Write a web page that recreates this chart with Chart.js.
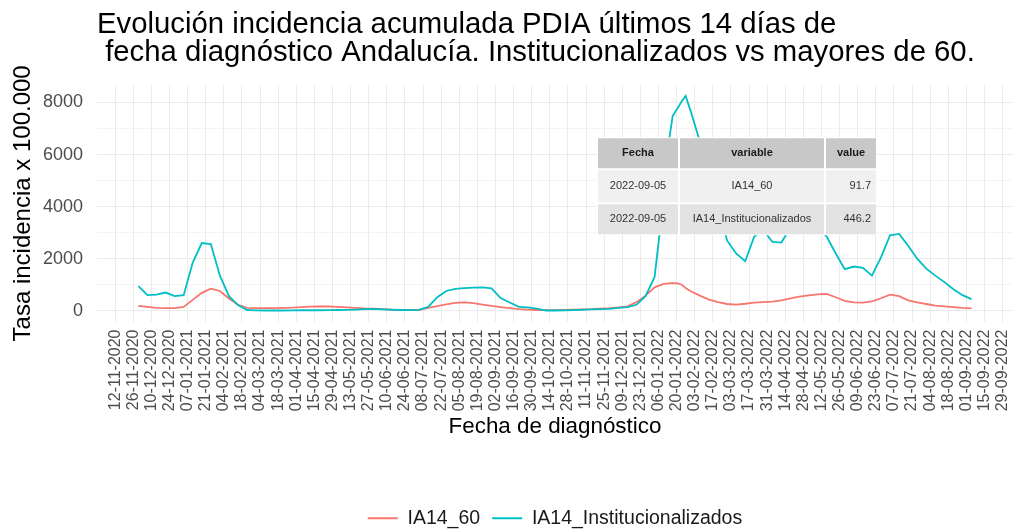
<!DOCTYPE html>
<html>
<head>
<meta charset="utf-8">
<script src="https://cdn.jsdelivr.net/npm/chart.js@4.4.1/dist/chart.umd.min.js"></script>
<style>
  html, body { margin: 0; padding: 0; background: #fff; }
  canvas { display: block; }
</style>
</head>
<body>
<canvas id="chart" width="1030" height="532"></canvas>
<script>
const titleLines = [
  "Evolución incidencia acumulada PDIA últimos 14 días de",
  " fecha diagnóstico Andalucía. Institucionalizados vs mayores de 60.",
];

// weekly readings (plus a few around the Jan 2022 peak)
const dates = [
  "2020-11-30", "2020-12-07", "2020-12-14", "2020-12-21", "2020-12-28",
  "2021-01-04", "2021-01-11", "2021-01-18", "2021-01-25", "2021-02-01", "2021-02-08", "2021-02-15", "2021-02-22",
  "2021-03-01", "2021-03-08", "2021-03-15", "2021-03-22", "2021-03-29", "2021-04-05", "2021-04-12", "2021-04-19",
  "2021-04-26", "2021-05-03", "2021-05-10", "2021-05-17", "2021-05-24", "2021-05-31", "2021-06-07", "2021-06-14",
  "2021-06-21", "2021-06-28", "2021-07-05", "2021-07-12", "2021-07-19", "2021-07-26", "2021-08-02", "2021-08-09",
  "2021-08-16", "2021-08-23", "2021-08-30", "2021-09-06", "2021-09-13", "2021-09-20", "2021-09-27", "2021-10-04",
  "2021-10-11", "2021-10-18", "2021-10-25", "2021-11-01", "2021-11-08", "2021-11-15", "2021-11-22", "2021-11-29",
  "2021-12-06", "2021-12-13", "2021-12-20", "2021-12-27",
  "2022-01-03", "2022-01-10", "2022-01-14", "2022-01-17", "2022-01-21", "2022-01-24", "2022-01-27", "2022-01-31",
  "2022-02-07", "2022-02-14", "2022-02-21", "2022-02-28", "2022-03-07", "2022-03-14", "2022-03-21", "2022-03-28",
  "2022-04-04", "2022-04-11", "2022-04-18", "2022-04-25", "2022-05-02", "2022-05-09", "2022-05-16", "2022-05-23",
  "2022-05-30", "2022-06-06", "2022-06-13", "2022-06-20", "2022-06-27", "2022-07-04", "2022-07-11", "2022-07-18",
  "2022-07-25", "2022-08-01", "2022-08-08", "2022-08-15", "2022-08-22", "2022-08-29", "2022-09-05",
];

const ia14_60 = [
  190, 150, 110, 100, 100,
  150, 420, 690, 850, 760, 470, 230, 110,
  100, 100, 100, 110, 120, 140, 160, 170,
  165, 150, 130, 110, 90, 80, 60, 40,
  30, 30, 40, 110, 180, 250, 300, 320,
  290, 240, 190, 140, 100, 60, 45, 30,
  25, 25, 30, 40, 50, 60, 80, 100,
  130, 170, 330, 580,
  900, 1030, 1050, 1060, 1050, 1000, 870, 750,
  580, 430, 330, 260, 240, 270, 310, 330,
  350, 400, 480, 540, 590, 630, 650, 520,
  380, 320, 310, 360, 480, 620, 560, 400,
  320, 260, 200, 170, 140, 110, 91.7,
];

const ia14_inst = [
  950, 600, 620, 700, 560,
  600, 1850, 2600, 2560, 1350, 560, 220, 30,
  15, 10, 10, 10, 15, 20, 20, 20,
  25, 30, 35, 45, 60, 75, 55, 40,
  30, 25, 35, 150, 520, 760, 840, 870,
  890, 895, 860, 490, 320, 150, 130, 85,
  10, 10, 15, 25, 40, 55, 65, 75,
  110, 140, 230, 560,
  1300, 4300, 6500, 7490, 7800, 8050, 8250, 7650,
  6500, 5400, 4100, 2700, 2200, 1900, 2850, 3100,
  2650, 2620, 3200, 3500, 3600, 3250, 2850, 2200,
  1600, 1700, 1650, 1350, 2050, 2900, 2950, 2500,
  2000, 1620, 1350, 1100, 830, 600, 446.2,
];

const xTickLabels = [
  "12-11-2020", "26-11-2020", "10-12-2020", "24-12-2020", "07-01-2021", "21-01-2021", "04-02-2021", "18-02-2021",
  "04-03-2021", "18-03-2021", "01-04-2021", "15-04-2021", "29-04-2021", "13-05-2021", "27-05-2021", "10-06-2021",
  "24-06-2021", "08-07-2021", "22-07-2021", "05-08-2021", "19-08-2021", "02-09-2021", "16-09-2021", "30-09-2021",
  "14-10-2021", "28-10-2021", "11-11-2021", "25-11-2021", "09-12-2021", "23-12-2021", "06-01-2022", "20-01-2022",
  "03-02-2022", "17-02-2022", "03-03-2022", "17-03-2022", "31-03-2022", "14-04-2022", "28-04-2022", "12-05-2022",
  "26-05-2022", "09-06-2022", "23-06-2022", "07-07-2022", "21-07-2022", "04-08-2022", "18-08-2022", "01-09-2022",
  "15-09-2022", "29-09-2022",
];

const yMajor = [0, 2000, 4000, 6000, 8000];
const yMinor = [1000, 3000, 5000, 7000];

const tableHeader = ["Fecha", "variable", "value"];
const tableRows = [
  ["2022-09-05", "IA14_60", "91.7"],
  ["2022-09-05", "IA14_Institucionalizados", "446.2"],
];

const FONT = "'Liberation Sans', Arial, sans-serif";
Chart.defaults.font.family = FONT;

// x axis is days since 12-11-2020 (no date adapter needed)
const BASE = Date.UTC(2020, 10, 12);
function dayOfIso(s) {
  const [y, m, d] = s.split("-").map(Number);
  return (Date.UTC(y, m - 1, d) - BASE) / 864e5;
}
function dayOfLabel(s) {
  const [d, m, y] = s.split("-").map(Number);
  return (Date.UTC(y, m - 1, d) - BASE) / 864e5;
}

const xTickDays = xTickLabels.map(dayOfLabel);
const labelByDay = new Map(xTickDays.map((d, i) => [d, xTickLabels[i]]));
const yBreaks = [...yMajor, ...yMinor].sort((a, b) => a - b);

const toPoints = (vals) => dates.map((d, i) => ({ x: dayOfIso(d), y: vals[i] }));

// the gridExtra-style table drawn over the panel
const tableCols = [82, 146, 52];
const tableRowH = [32, 34, 32];
const tableFill = ["#c8c8c8", "#f0f0f0", "#e3e3e3"];

const tablePlugin = {
  id: "tableOverlay",
  afterDatasetsDraw(chart) {
    const { ctx, chartArea } = chart;
    const x0 = chartArea.left + 500;
    const y0 = chartArea.top + 52;
    const totalW = tableCols.reduce((a, b) => a + b, 0);
    const totalH = tableRowH.reduce((a, b) => a + b, 0);
    const rows = [tableHeader, ...tableRows];
    ctx.save();
    ctx.fillStyle = "#fff";
    ctx.fillRect(x0, y0, totalW, totalH);
    ctx.textBaseline = "middle";
    let y = y0;
    rows.forEach((row, r) => {
      let x = x0;
      const h = tableRowH[r];
      row.forEach((txt, c) => {
        const w = tableCols[c];
        ctx.fillStyle = tableFill[r];
        ctx.fillRect(x + 1, y + 1, w - 2, h - 2);
        ctx.fillStyle = r === 0 ? "#1a1a1a" : "#333";
        ctx.font = `${r === 0 ? "bold " : ""}11px ${FONT}`;
        const right = r > 0 && c === 2;
        ctx.textAlign = right ? "right" : "center";
        ctx.fillText(txt, right ? x + w - 6 : x + w / 2, y + h / 2);
        x += w;
      });
      y += h;
    });
    ctx.restore();
  },
};

new Chart(document.getElementById("chart"), {
  type: "line",
  data: {
    datasets: [
      { label: "IA14_60", data: toPoints(ia14_60), borderColor: "#F8766D", backgroundColor: "#F8766D", borderWidth: 1.8, pointRadius: 0, order: 1 },
      { label: "IA14_Institucionalizados", data: toPoints(ia14_inst), borderColor: "#00BFC4", backgroundColor: "#00BFC4", borderWidth: 1.8, pointRadius: 0, order: 0 },
    ],
  },
  options: {
    responsive: false,
    animation: false,
    devicePixelRatio: 1,
    layout: { padding: { left: 0, right: 8, top: 0, bottom: -6 } },
    plugins: {
      title: {
        display: true,
        text: titleLines,
        align: "start",
        fullSize: false,
        color: "#000",
        font: { size: 29.3, weight: "normal", lineHeight: 0.96 },
        padding: { top: 11, bottom: 18 },
      },
      legend: {
        position: "bottom",
        fullSize: false,
        labels: {
          color: "#1a1a1a",
          font: { size: 19.5 },
          boxWidth: 30,
          boxHeight: 2,
          padding: 12,
          sort: (a, b) => a.datasetIndex - b.datasetIndex,
          generateLabels: (chart) =>
            Chart.defaults.plugins.legend.labels.generateLabels(chart).map((l) => ({ ...l, lineWidth: 0, fillStyle: l.strokeStyle })),
        },
      },
      tooltip: { enabled: false },
    },
    scales: {
      x: {
        type: "linear",
        min: -14,
        max: 694,
        afterBuildTicks: (s) => { s.ticks = xTickDays.map((v) => ({ value: v })); },
        afterFit: (s) => { s.height = 175; },
        ticks: {
          autoSkip: false,
          minRotation: 90,
          maxRotation: 90,
          padding: 8,
          color: "#4d4d4d",
          font: { size: 16 },
          callback: (v) => labelByDay.get(v) ?? "",
        },
        grid: { color: "#ebebeb", lineWidth: 1, drawTicks: false },
        border: { display: false },
        title: { display: true, text: "Fecha de diagnóstico", color: "#000", font: { size: 22.4 }, padding: { top: 0, bottom: 56 } },
      },
      y: {
        min: -412,
        max: 8662,
        afterBuildTicks: (s) => { s.ticks = yBreaks.map((v) => ({ value: v })); },
        afterFit: (s) => { s.width = 97; },
        ticks: {
          padding: 14,
          color: "#4d4d4d",
          font: { size: 18 },
          callback: (v) => (yMajor.includes(v) ? String(v) : ""),
        },
        grid: {
          drawTicks: false,
          color: (c) => (yMajor.includes(c.tick.value) ? "#ebebeb" : "#f1f1f1"),
          lineWidth: (c) => (yMajor.includes(c.tick.value) ? 1 : 0.8),
        },
        border: { display: false },
        title: { display: true, text: "Tasa incidencia x 100.000", color: "#000", font: { size: 24 }, padding: { top: 9, bottom: 0 } },
      },
    },
  },
  plugins: [tablePlugin],
});
</script>
</body>
</html>
